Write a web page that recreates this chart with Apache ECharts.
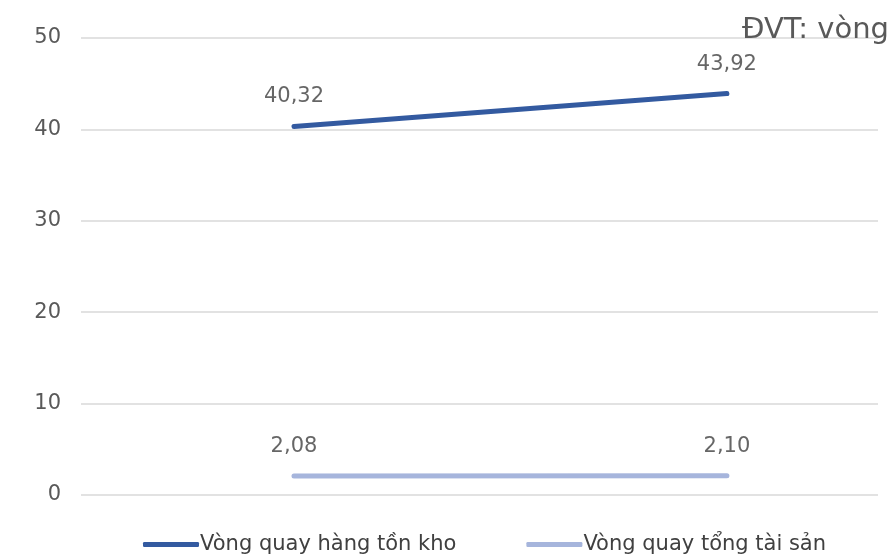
<!DOCTYPE html>
<html><head><meta charset="utf-8">
<script src="https://cdn.jsdelivr.net/npm/echarts@6/dist/echarts.min.js"></script>
<style>html,body{margin:0;padding:0;background:#fff}#c{width:894px;height:559px}</style>
</head><body><div id="c"></div>
<script>
const periods = ['Kỳ 1', 'Kỳ 2'];
const inventoryTurnover = [40.32, 43.92];
const assetTurnover = [2.08, 2.10];
const seriesNames = ['Vòng quay hàng tồn kho', 'Vòng quay tổng tài sản'];
const yTicks = [0, 10, 20, 30, 40, 50];
const unitText = 'ĐVT: vòng';

const FONT = '"DejaVu Sans", sans-serif';
const fmt = v => v.toFixed(2).replace('.', ',');
const toPairs = arr => arr.map((v, i) => [i, v]);

const chart = echarts.init(document.getElementById('c'));
chart.setOption({
  animation: false,
  title: {
    text: unitText, right: 0, top: 11,
    textStyle: { fontFamily: FONT, fontSize: 29, fontWeight: 'normal', color: '#595959' }
  },
  grid: { left: 81, right: 16, top: 38, bottom: 64 },
  xAxis: {
    type: 'value', min: -0.492, max: 1.349,
    show: false
  },
  yAxis: {
    type: 'value', min: yTicks[0], max: yTicks[yTicks.length - 1], interval: 10,
    axisLine: { show: false }, axisTick: { show: false },
    axisLabel: { margin: 20, fontFamily: FONT, fontSize: 21, color: '#595959' },
    splitLine: { lineStyle: { color: '#D9D9D9', width: 1.5 } }
  },
  legend: {
    bottom: -1, left: 138, itemGap: 70, itemWidth: 56, itemHeight: 5,
    icon: 'roundRect',
    textStyle: { fontFamily: FONT, fontSize: 21, color: '#404040', padding: [0, 0, 0, -4] },
    data: seriesNames
  },
  series: [
    {
      name: seriesNames[0], type: 'line', data: toPairs(inventoryTurnover),
      symbol: 'none', itemStyle: { color: '#335AA0' },
      lineStyle: { width: 5, color: '#335AA0', cap: 'round' }
    },
    {
      name: seriesNames[1], type: 'line', data: toPairs(assetTurnover),
      symbol: 'none', itemStyle: { color: '#A6B5DC' },
      lineStyle: { width: 5, color: '#A6B5DC', cap: 'round' }
    },
    {
      name: seriesNames[0] + ' labels', type: 'scatter', data: toPairs(inventoryTurnover),
      symbolSize: 0, silent: true,
      label: { show: true, position: 'top', distance: 19, formatter: p => fmt(p.value[1]),
        fontFamily: FONT, fontSize: 21, color: '#404040' }
    },
    {
      name: seriesNames[1] + ' labels', type: 'scatter', data: toPairs(assetTurnover),
      symbolSize: 0, silent: true,
      label: { show: true, position: 'top', distance: 19, formatter: p => fmt(p.value[1]),
        fontFamily: FONT, fontSize: 21, color: '#404040' }
    }
  ]
});
</script></body></html>
